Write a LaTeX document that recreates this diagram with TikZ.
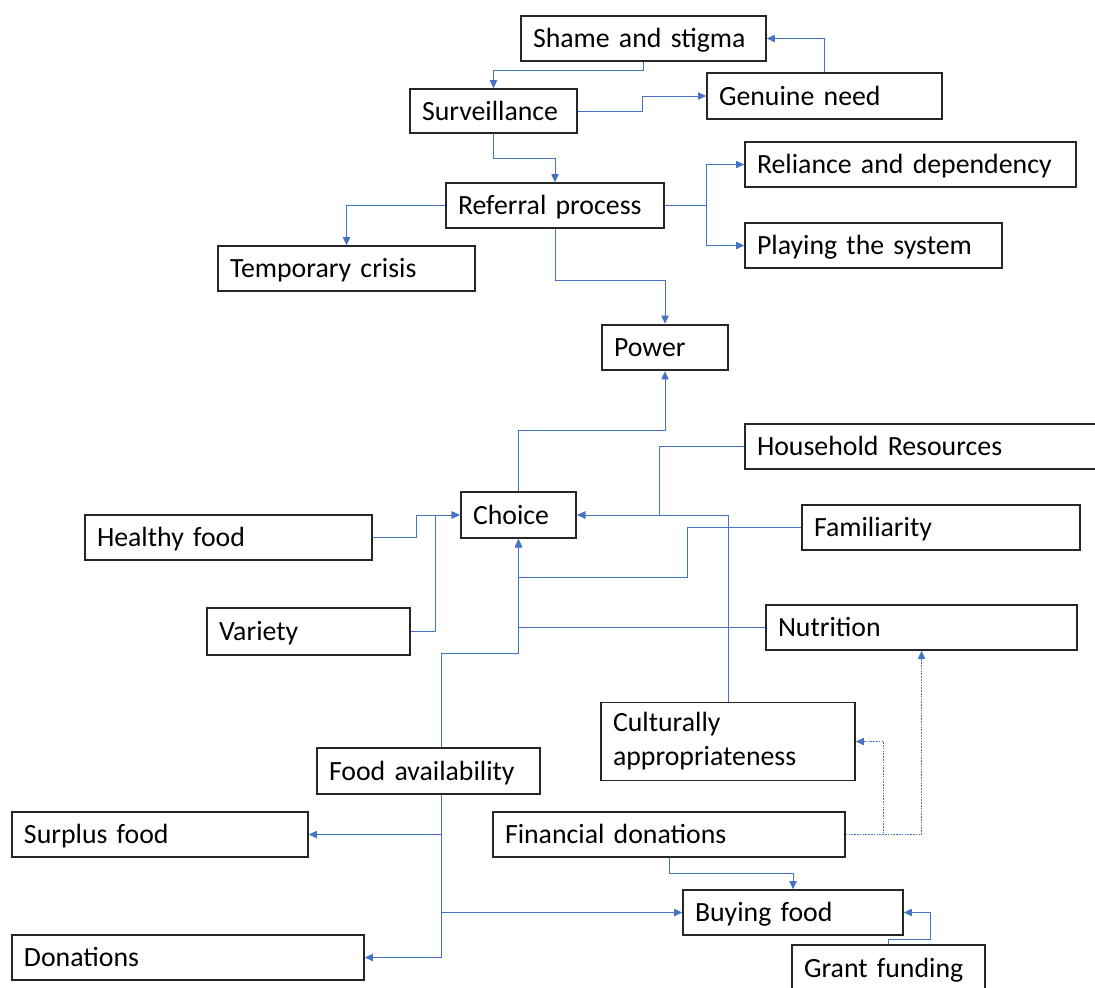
\documentclass[tikz,border=0pt]{standalone}
\usepackage{fontspec}
\setmainfont{Carlito}
\usetikzlibrary{arrows.meta,calc}
\definecolor{linkblue}{HTML}{4472C4}
\definecolor{boxline}{HTML}{262626}
\begin{document}
\begin{tikzpicture}[x=0.5pt,y=-0.5pt,
  boxbase/.style={draw=boxline,line width=0.8pt,rectangle,inner xsep=6pt,inner ysep=0pt,
    align=left,font=\fontsize{13.9pt}{17pt}\selectfont,minimum height=22.5pt},
  box/.style={boxbase,text height=9.7pt,text depth=0.7pt},
  keybox/.style={box,line width=1.3pt},
  conn/.style={draw=linkblue,line width=0.5pt,-{Triangle[length=4pt,width=3.6pt]}},
  dotconn/.style={conn,dash pattern=on 0.8pt off 0.6pt}]
\useasboundingbox (0,0) rectangle (1095,987);

% boxes
\node[box,text width=110.5pt] (shame) at (643.5,38.5) {Shame and stigma};
\node[box,text width=105.5pt,minimum height=23pt] (genuine) at (824.5,96) {Genuine need};
\node[box,text width=71.5pt,minimum height=22pt] (surv) at (493.5,111) {Surveillance};
\node[box,text width=97pt] (referral) at (555,205.5) {Referral process};
\node[box,text width=153.5pt] (reliance) at (910.5,164.5) {Reliance and dependency};
\node[box,text width=116.5pt] (playing) at (873.5,245.5) {Playing the system};
\node[box,text width=116.5pt] (temporary) at (346.5,268.5) {Temporary crisis};
\node[keybox,text width=51pt] (power) at (665,347.5) {Power};
\node[box,text width=168pt] (household) at (925,446.5) {Household Resources};
\node[keybox,text width=45.5pt,minimum height=23pt] (choice) at (518.5,515) {Choice};
\node[box,text width=131.5pt] (healthy) at (228.5,537.5) {Healthy food};
\node[box,text width=127pt] (familiarity) at (941,527.5) {Familiarity};
\node[box,text width=89.5pt,minimum height=23.5pt] (variety) at (308.5,631.5) {Variety};
\node[box,text width=143.5pt] (nutrition) at (921.5,627.5) {Nutrition};
\node[boxbase,text width=115pt,minimum height=39pt] (cultural) at (728,741.5) {Culturally\\appropriateness};
\node[box,text width=99.5pt,minimum height=23pt] (avail) at (428.5,771) {Food availability};
\node[box,text width=136pt] (surplus) at (160,834.5) {Surplus food};
\node[box,text width=164pt] (financial) at (669,834.5) {Financial donations};
\node[box,text width=98pt] (buying) at (793,912.5) {Buying food};
\node[box,text width=84.5pt,minimum height=23pt] (grant) at (888.5,968) {Grant funding};
\node[box,text width=164pt] (donations) at (188,957.5) {Donations};

% branch points under and over Food availability
\coordinate (availtop) at ($(avail.north)+(13,0)$);
\coordinate (availbot) at ($(avail.south)+(13,0)$);

% connectors, upper part
\draw[conn] (shame.south) -- ++(0,9) -| (surv.north);
\draw[conn] (genuine.north) |- (shame.east);
\draw[conn] (surv.east) -- ++(65,0) |- (genuine.west);
\draw[conn] (surv.south) -- ++(0,25) -| (referral.north);
\draw[conn] (referral.east) -- ++(42,0) |- (reliance.west);
\draw[conn] (referral.east) -- ++(42,0) |- (playing.west);
\draw[conn] (referral.west) -| (temporary.north);
\draw[conn] (referral.south) -- ++(0,52) -| (power.north);
\draw[conn] (choice.north) -- ++(0,-60) -| (power.south);

% connectors into Choice
\draw[conn] (household.west) -- ++(-85,0) |- (choice.east);
\draw[conn] (cultural.north) |- (choice.east);
\draw[conn] (healthy.east) -- ++(44,0) |- (choice.west);
\draw[conn] (variety.east) -- ++(25,0) |- (choice.west);
\draw[conn] (familiarity.west) -- ++(-114,0) -- ++(0,50) -| (choice.south);
\draw[conn] (nutrition.west) -| (choice.south);
\draw[conn] (availtop) -- ++(0,-94) -| (choice.south);

% connectors out of Food availability
\draw[conn] (availbot) |- (surplus.east);
\draw[conn] (availbot) |- (buying.west);
\draw[conn] (availbot) |- (donations.east);

% funding connectors
\draw[dotconn] (financial.east) -- ++(38,0) |- (cultural.east);
\draw[dotconn] (financial.east) -| (nutrition.south);
\draw[conn] (financial.south) -- ++(0,16) -| (buying.north);
\draw[conn] (grant.north) -- ++(0,-5) -| ($(buying.east)+(27,0)$) -- (buying.east);
\end{tikzpicture}
\end{document}
